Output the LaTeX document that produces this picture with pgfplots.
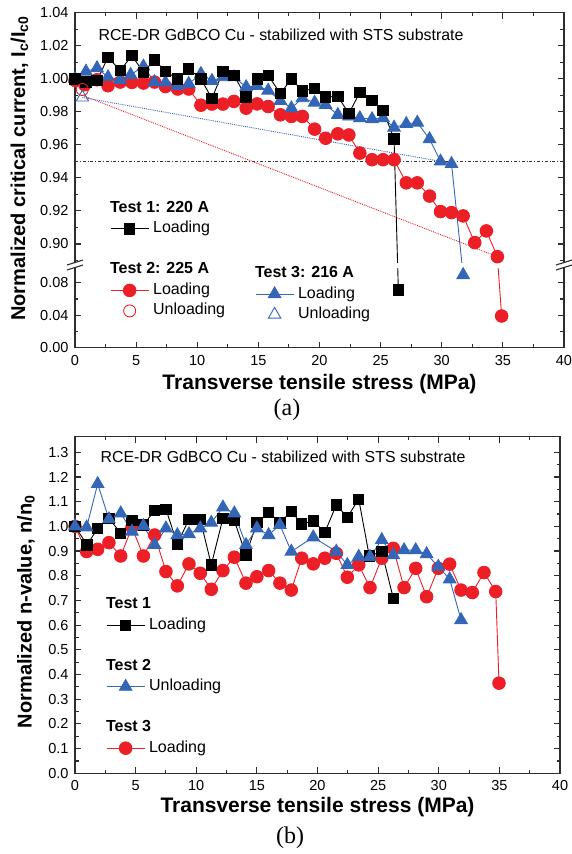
\documentclass[border=0pt]{standalone}
\usepackage{fontspec}
\setmainfont{Liberation Sans}
\newfontfamily\capfont{Liberation Serif}
\usepackage{pgfplots}
\pgfplotsset{compat=1.18}

\definecolor{tred}{RGB}{236,30,38}
\definecolor{tblue}{RGB}{52,102,184}
\definecolor{spine}{RGB}{45,45,45}

\newcommand{\fsz}[1]{\fontsize{#1}{#1}\selectfont}
\tikzset{brk/.style={spine, line width=1.1pt}}

% common look of both panels
\pgfplotsset{
  panel/.style={
    scale only axis, clip=false,
    xmin=0, xmax=40, xtick={0,5,...,40}, minor x tick num=1,
    tick align=inside, major tick length=6pt, minor tick length=3.5pt,
    axis line style={line width=1.5pt, spine},
    every tick/.append style={line width=1.1pt, spine},
    tick label style={font=\fsz{14.5}},
    xticklabel style={yshift=-4pt},
    yticklabel style={xshift=-3pt},
    /pgf/number format/assume math mode=true,
    xlabel style={font=\bfseries\fsz{21}},
    ylabel style={font=\bfseries\fsz{20}, anchor=center},
    legend style={draw=none, fill=none, inner sep=0pt, anchor=north west,
      font=\fsz{16}, row sep=0pt,
      nodes={text height=12pt, text depth=4pt, inner ysep=2.25pt, inner xsep=4pt}},
    legend cell align=left,
  },
  legend image code/.code={\draw[mark repeat=2,mark phase=2,#1] plot coordinates {(0pt,0pt) (19pt,0pt) (38pt,0pt)};},
  single legend/.style={legend image code/.code={\draw[##1] plot coordinates {(19pt,0pt)};}},
  sqr/.style={black, line width=0.9pt, mark=square*, mark size=5.2pt, mark options={solid}},
  dot/.style={tred, line width=0.9pt, mark=*, mark size=6.3pt, mark options={solid}},
  tri/.style={tblue, line width=0.9pt, mark=triangle*, mark size=7.2pt, mark options={solid}},
}

\begin{document}
\begin{tikzpicture}[x=1pt,y=1pt]
\path[use as bounding box] (0,0) rectangle (572,-854);

% ---------------- (a) critical current ----------------
\begin{axis}[panel,
  at={(75pt,-347.7pt)}, anchor=south west, width=489pt, height=335pt,
  y coord trafo/.code={\pgfmathparse{#1>0.5 ? #1 : 0.8372+0.4921*#1}},
  ymin=0, ymax=1.04,
  ytick={0,0.04,0.08,0.90,0.92,0.94,0.96,0.98,1.00,1.02,1.04},
  yticklabels={0.00,0.04,0.08,0.90,0.92,0.94,0.96,0.98,1.00,1.02,1.04},
  minor ytick={0.02,0.06,0.89,0.91,0.93,0.95,0.97,0.99,1.01,1.03},
  xlabel={Transverse tensile stress (MPa)},
  xlabel style={at={(axis description cs:0.5,-0.1242)}, anchor=base},
  ylabel={Normalized critical current, I\textsubscript{c}/I\textsubscript{c0}},
  ylabel style={at={(axis description cs:-0.1135,0.535)}},
  legend style={at={(axis description cs:0.0716,0.447)}},
]
\addplot[gray!40!black, line width=0.7pt, dash dot, forget plot] coordinates {(0,0.95) (40,0.95)};
\addplot[tred, line width=0.9pt, densely dotted, forget plot] coordinates {(0.6,0.990) (34.55,0.8923)};
\addplot[tblue, line width=0.9pt, densely dotted, forget plot] coordinates {(0.6,0.9887) (29.9,0.950)};

\addplot[dot, forget plot] table[row sep=\\]{
x y\\
0 0.999\\ 0.8 0.9964\\ 1.8 0.9994\\ 2.7 0.9958\\ 3.7 0.998\\ 4.65 0.9978\\
5.6 0.9974\\ 6.5 0.998\\ 7.4 0.9953\\ 8.4 0.9938\\ 9.3 0.9938\\ 10.3 0.984\\
11.2 0.9847\\ 12.1 0.9847\\ 13.0 0.9863\\ 14.0 0.9822\\ 14.9 0.9848\\ 15.8 0.9832\\
16.8 0.9782\\ 17.7 0.9772\\ 18.6 0.9772\\ 19.6 0.9695\\ 20.5 0.964\\ 21.5 0.9667\\
22.4 0.966\\ 23.3 0.955\\ 24.3 0.951\\ 25.2 0.951\\ 26.1 0.951\\ 27.1 0.937\\
28.0 0.937\\ 29.0 0.929\\ 29.9 0.9196\\ 30.8 0.919\\ 31.75 0.917\\ 32.7 0.9008\\
33.65 0.9079\\ 34.55 0.8923\\ 34.9 0.039\\
};
\addplot[tri, forget plot] table[row sep=\\]{
x y\\
0 1.000\\ 0.9 1.0044\\ 1.8 1.0065\\ 2.7 1.001\\ 3.7 0.9994\\ 4.55 1.0024\\
5.6 1.0075\\ 6.5 0.998\\ 7.4 0.9978\\ 8.4 0.9958\\ 9.3 0.997\\ 10.3 1.003\\
11.2 0.9988\\ 12.1 1.001\\ 13.0 1.001\\ 14.0 0.995\\ 14.9 0.9958\\ 15.8 0.9929\\
16.8 0.9867\\ 17.7 0.9822\\ 18.6 0.9883\\ 19.6 0.9856\\ 20.5 0.9842\\ 21.5 0.9782\\
22.4 0.9772\\ 23.3 0.9762\\ 24.3 0.9756\\ 25.2 0.9762\\ 26.1 0.9705\\ 27.1 0.9727\\
28.0 0.9735\\ 29.0 0.9635\\ 29.9 0.950\\ 30.8 0.9485\\ 31.75 0.0895\\
};
\addplot[sqr, forget plot] table[row sep=\\]{
x y\\
0 1.000\\ 0.9 0.998\\ 1.8 0.999\\ 2.7 1.013\\ 3.7 1.005\\ 4.65 1.014\\
5.6 1.004\\ 6.5 1.0115\\ 7.4 1.0044\\ 8.4 1.000\\ 9.3 1.006\\ 10.3 1.000\\
11.2 0.988\\ 12.1 1.0044\\ 13.0 1.002\\ 14.0 0.989\\ 14.9 1.000\\ 15.8 1.002\\
16.8 0.991\\ 17.7 1.000\\ 18.6 0.9927\\ 19.6 0.994\\ 20.5 0.989\\ 21.5 0.9893\\
22.4 0.979\\ 23.3 0.9917\\ 24.3 0.9868\\ 25.2 0.981\\ 26.1 0.9635\\ 26.45 0.071\\
};
% unloading points
\addplot[tred, only marks, mark=o, mark size=6pt, line width=0.9pt, forget plot] coordinates {(0.6,0.9935)};
\addplot[tblue, only marks, mark=triangle, mark size=7.2pt, line width=0.9pt, forget plot] coordinates {(0.6,0.9887)};

% axis break
\fill[white] (rel axis cs:-0.03,0.2394) rectangle (rel axis cs:1.03,0.2543);
\draw[brk] ([xshift=-8pt,yshift=-2.5pt]rel axis cs:0,0.2394) -- ([xshift=8pt,yshift=2.5pt]rel axis cs:0,0.2394);
\draw[brk] ([xshift=-8pt,yshift=-2.5pt]rel axis cs:0,0.2543) -- ([xshift=8pt,yshift=2.5pt]rel axis cs:0,0.2543);
\draw[brk] ([xshift=-8pt,yshift=-2.5pt]rel axis cs:1,0.2394) -- ([xshift=8pt,yshift=2.5pt]rel axis cs:1,0.2394);
\draw[brk] ([xshift=-8pt,yshift=-2.5pt]rel axis cs:1,0.2543) -- ([xshift=8pt,yshift=2.5pt]rel axis cs:1,0.2543);

\node[anchor=base west, font=\fsz{15.9}] at (axis description cs:0.0409,0.9164)
  {RCE-DR GdBCO Cu - stabilized with STS substrate};

\addlegendimage{empty legend}\addlegendentry{\hspace*{-43pt}\textbf{Test 1: 220 A}}
\addlegendimage{sqr}\addlegendentry{Loading}
\addlegendimage{empty legend}\addlegendentry{}
\addlegendimage{empty legend}\addlegendentry{\hspace*{-43pt}\textbf{Test 2: 225 A}}
\addlegendimage{dot}\addlegendentry{Loading}
\addlegendimage{single legend, tred, mark=o, mark size=6pt, line width=0.9pt}\addlegendentry{Unloading}
\end{axis}

% second legend block (Test 3)
\begin{axis}[panel, hide axis,
  at={(75pt,-347.7pt)}, anchor=south west, width=489pt, height=335pt,
  ymin=0, ymax=1,
  legend style={at={(axis description cs:0.368,0.2525)}},
]
\addlegendimage{empty legend}\addlegendentry{\hspace*{-43pt}\textbf{Test 3: 216 A}}
\addlegendimage{tri}\addlegendentry{Loading}
\addlegendimage{single legend, tblue, mark=triangle, mark size=7.2pt, line width=0.9pt}\addlegendentry{Unloading}
\end{axis}

\node[font=\capfont\fsz{24}] at (287,-410) {(a)};

% ---------------- (b) n-value ----------------
\begin{axis}[panel,
  at={(75pt,-773.3pt)}, anchor=south west, width=485pt, height=336.6pt,
  ymin=0, ymax=1.363,
  ytick={0,0.1,...,1.3}, minor y tick num=1,
  yticklabel style={/pgf/number format/.cd, fixed, fixed zerofill, precision=1},
  xlabel={Transverse tensile stress (MPa)},
  xlabel style={at={(axis description cs:0.5,-0.117)}, anchor=base},
  ylabel={Normalized n-value, n/n\textsubscript{0}},
  ylabel style={at={(axis description cs:-0.101,0.48)}},
  legend style={at={(axis description cs:0.0639,0.532)}},
]
\addplot[dot, forget plot] table[row sep=\\]{
x y\\
0 1.000\\ 0.96 0.898\\ 1.87 0.907\\ 2.8 0.934\\ 3.77 0.880\\ 4.7 0.996\\
5.64 0.880\\ 6.57 0.965\\ 7.5 0.817\\ 8.44 0.759\\ 9.4 0.848\\ 10.33 0.810\\
11.24 0.745\\ 12.2 0.821\\ 13.14 0.875\\ 14.1 0.770\\ 15.0 0.796\\ 15.97 0.821\\
16.9 0.770\\ 17.84 0.742\\ 18.7 0.871\\ 19.65 0.848\\ 20.6 0.871\\ 21.55 0.891\\
22.46 0.794\\ 23.4 0.844\\ 24.33 0.752\\ 25.3 0.871\\ 26.25 0.911\\ 27.14 0.752\\
28.1 0.830\\ 29.0 0.715\\ 29.96 0.830\\ 30.9 0.847\\ 31.84 0.742\\ 32.77 0.732\\
33.73 0.813\\ 34.7 0.736\\ 34.97 0.365\\
};
\addplot[sqr, forget plot] table[row sep=\\]{
x y\\
0 1.000\\ 1.0 0.925\\ 1.87 0.992\\ 2.8 1.033\\ 3.77 0.972\\ 4.7 1.023\\
5.64 1.006\\ 6.57 1.064\\ 7.5 1.069\\ 8.44 0.929\\ 9.4 1.029\\ 10.33 1.029\\
11.24 0.844\\ 12.2 1.033\\ 13.14 1.023\\ 14.1 0.884\\ 15.0 1.015\\ 15.97 1.056\\
16.9 1.015\\ 17.84 1.060\\ 18.7 1.010\\ 19.65 1.022\\ 20.6 0.975\\ 21.55 1.087\\
22.46 1.037\\ 23.4 1.110\\ 24.27 0.880\\ 25.3 0.898\\ 26.25 0.709\\
};
\addplot[tri, forget plot] table[row sep=\\]{
x y\\
0 1.000\\ 0.96 0.996\\ 1.87 1.172\\ 2.8 1.029\\ 3.77 1.053\\ 4.7 0.979\\
5.64 1.002\\ 6.57 0.925\\ 7.5 0.992\\ 8.44 0.965\\ 9.4 0.969\\ 10.33 0.992\\
11.24 1.015\\ 12.2 1.077\\ 13.14 1.053\\ 14.1 0.925\\ 15.0 0.992\\ 15.97 0.965\\
16.9 1.006\\ 17.84 0.898\\ 19.65 0.956\\ 21.55 0.898\\ 22.46 0.844\\ 23.4 0.877\\
24.33 0.877\\ 25.3 0.945\\ 26.25 0.884\\ 27.14 0.904\\ 28.1 0.904\\ 29.0 0.888\\
29.96 0.837\\ 30.9 0.786\\ 31.84 0.621\\
};

\node[anchor=base west, font=\fsz{15.9}] at (axis description cs:0.0454,0.9228)
  {RCE-DR GdBCO Cu - stabilized with STS substrate};

\addlegendimage{empty legend}\addlegendentry{\hspace*{-43pt}\textbf{Test 1}}
\addlegendimage{sqr}\addlegendentry{Loading}
\addlegendimage{empty legend}\addlegendentry{}
\addlegendimage{empty legend}\addlegendentry{\hspace*{-43pt}\textbf{Test 2}}
\addlegendimage{tri}\addlegendentry{Unloading}
\addlegendimage{empty legend}\addlegendentry{}
\addlegendimage{empty legend}\addlegendentry{\hspace*{-43pt}\textbf{Test 3}}
\addlegendimage{dot}\addlegendentry{Loading}
\end{axis}

\node[font=\capfont\fsz{24}] at (290,-838) {(b)};
\end{tikzpicture}
\end{document}
